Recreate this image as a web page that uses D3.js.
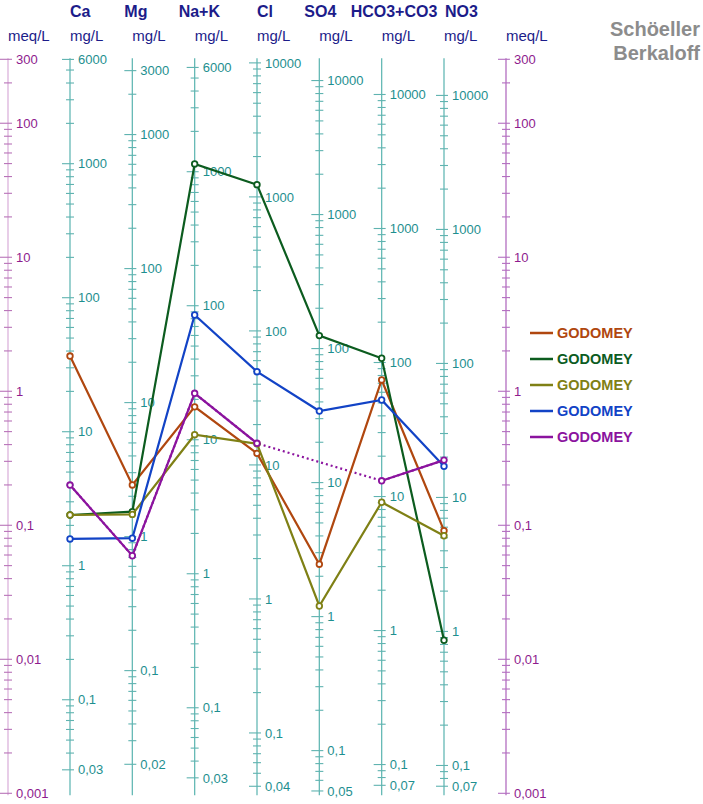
<!DOCTYPE html>
<html>
<head>
<meta charset="utf-8">
<script src="https://cdn.jsdelivr.net/npm/d3@7"></script>
<style>
  body { margin: 0; background: #fff; }
  text { font-family: "Liberation Sans", Arial, sans-serif; }
</style>
</head>
<body>
<svg id="chart" width="703" height="804"></svg>
<script>
// ions and equivalent weights (mg per meq)
const ions = ["Ca", "Mg", "Na+K", "Cl", "SO4", "HCO3+CO3", "NO3"];
const eqWeight = [20.04, 12.15, 23.0, 35.45, 48.03, 61.02, 62.0];

// labelled ticks of every mg/L axis
const ionTickLabels = [
  [6000, 1000, 100, 10, 1, 0.1, 0.03],
  [3000, 1000, 100, 10, 1, 0.1, 0.02],
  [6000, 1000, 100, 10, 1, 0.1, 0.03],
  [10000, 1000, 100, 10, 1, 0.1, 0.04],
  [10000, 1000, 100, 10, 1, 0.1, 0.05],
  [10000, 1000, 100, 10, 1, 0.1, 0.07],
  [10000, 1000, 100, 10, 1, 0.1, 0.07]
];
const meqTickLabels = [300, 100, 10, 1, 0.1, 0.01, 0.001];
const meqDomain = [0.001, 300];

// samples, mg/L per ion (null = not analysed)
const sampleNames = ["GODOMEY", "GODOMEY", "GODOMEY", "GODOMEY", "GODOMEY"];
const sample1 = [36.7, 2.43, 17.6, 12.2, 2.46, 74.1, 5.65];
const sample2 = [2.39, 1.535, 1143, 1234, 125, 107.6, 0.86];
const sample3 = [2.39, 1.465, 10.9, 14.4, 1.2, 9.06, 5.18];
const sample4 = [1.585, 0.973, 85.3, 49.6, 34.2, 52.5, 17.1];
const sample5 = [4.0, 0.72, 22.2, 14.5, null, 13.1, 19.0];
const samples = [sample1, sample2, sample3, sample4, sample5];
const sampleColors = ["#b0470f", "#0c5c1f", "#7f8015", "#1243c6", "#8b139e"];

const svg = d3.select("#chart");
const yTop = 59.3, yBot = 793.3;
const axisX = d3.scalePoint().domain(d3.range(ions.length)).range([70, 444]);
const meqLeftX = 8, meqRightX = 506;
const headerDx = [0, -8, -16, 0, -15, -31, 1];

const fmt = v => String(v).replace(".", ",");
const isLabel = (labels, t) => labels.some(l => Math.abs(l - t) / l < 1e-6);

const meqY = d3.scaleLog().domain(meqDomain).range([yBot, yTop]);
const ionY = eqWeight.map(w => d3.scaleLog().domain([meqDomain[0] * w, meqDomain[1] * w]).range([yBot, yTop]));

function drawAxis(x, scale, labels, lineColor, tickColor, textColor) {
  const g = svg.append("g").attr("transform", "translate(" + x + ",0)");
  g.append("line")
    .attr("x1", 0).attr("x2", 0)
    .attr("y1", yTop - 1).attr("y2", yBot + 2)
    .attr("stroke", lineColor).attr("stroke-width", 1.3);
  const ticks = scale.ticks();
  g.selectAll("line.tick")
    .data(ticks).enter()
    .append("line").attr("class", "tick")
    .attr("x1", d => isLabel(labels, d) ? -8 : -4)
    .attr("x2", 4)
    .attr("y1", d => scale(d)).attr("y2", d => scale(d))
    .attr("stroke", tickColor).attr("stroke-width", 1.1);
  g.selectAll("text")
    .data(labels).enter()
    .append("text")
    .attr("x", 8)
    .attr("y", d => scale(d))
    .attr("dy", "0.36em")
    .attr("font-size", 13)
    .attr("fill", textColor)
    .text(d => fmt(d));
}

// meq/L axes
drawAxis(meqLeftX, meqY, meqTickLabels, "#dcb3dc", "#b873b8", "#8e1b8e");
drawAxis(meqRightX, meqY, meqTickLabels, "#b36ec0", "#b36ec0", "#8e1b8e");

// mg/L axes
ions.forEach((ion, i) => {
  drawAxis(axisX(i), ionY[i], ionTickLabels[i], "#65b9b5", "#5fb3b0", "#1e8f8f");
});

// headers
const header = svg.append("g");
ions.forEach((ion, i) => {
  header.append("text")
    .attr("x", axisX(i) + headerDx[i]).attr("y", 17)
    .attr("font-size", 16).attr("font-weight", "bold")
    .attr("fill", "#1c1c8a").text(ion);
  header.append("text")
    .attr("x", axisX(i)).attr("y", 41)
    .attr("font-size", 15).attr("fill", "#1c1c8a").text("mg/L");
});
[meqLeftX, meqRightX].forEach(x => {
  header.append("text")
    .attr("x", x).attr("y", 41)
    .attr("font-size", 15).attr("fill", "#1c1c8a").text("meq/L");
});

// title
svg.append("text").attr("x", 700).attr("y", 36)
  .attr("text-anchor", "end").attr("font-size", 20).attr("font-weight", "bold")
  .attr("fill", "#8c8c8c").text("Schöeller");
svg.append("text").attr("x", 700).attr("y", 60)
  .attr("text-anchor", "end").attr("font-size", 20).attr("font-weight", "bold")
  .attr("fill", "#8c8c8c").text("Berkaloff");

// sample lines
const plot = svg.append("g");
samples.forEach((vals, s) => {
  const color = sampleColors[s];
  const pts = vals.map((v, i) => v == null ? null : [axisX(i), ionY[i](v)]);
  const solid = d3.line().defined(d => d != null);
  plot.append("path")
    .attr("d", solid(pts))
    .attr("fill", "none").attr("stroke", color).attr("stroke-width", 2.2);
  // dotted bridge over missing values
  const present = pts.filter(d => d != null);
  if (present.length < pts.length) {
    plot.append("path")
      .attr("d", d3.line()(present))
      .attr("fill", "none").attr("stroke", color)
      .attr("stroke-width", 2.2).attr("stroke-dasharray", "2,3")
      .attr("opacity", 1)
      .lower();
  }
  plot.selectAll("circle.s" + s)
    .data(present).enter()
    .append("circle").attr("class", "s" + s)
    .attr("cx", d => d[0]).attr("cy", d => d[1])
    .attr("r", 2.8)
    .attr("fill", "#fff").attr("stroke", color).attr("stroke-width", 1.8);
});

// legend
const legend = svg.append("g").attr("transform", "translate(530,333)");
sampleNames.forEach((name, s) => {
  const row = legend.append("g").attr("transform", "translate(0," + (s * 26) + ")");
  row.append("line").attr("x1", 0).attr("x2", 23).attr("y1", 0).attr("y2", 0)
    .attr("stroke", sampleColors[s]).attr("stroke-width", 2.5);
  row.append("text").attr("x", 27).attr("y", 0).attr("dy", "0.36em")
    .attr("font-size", 14.5).attr("font-weight", "bold")
    .attr("fill", sampleColors[s]).text(name);
});
</script>
</body>
</html>
